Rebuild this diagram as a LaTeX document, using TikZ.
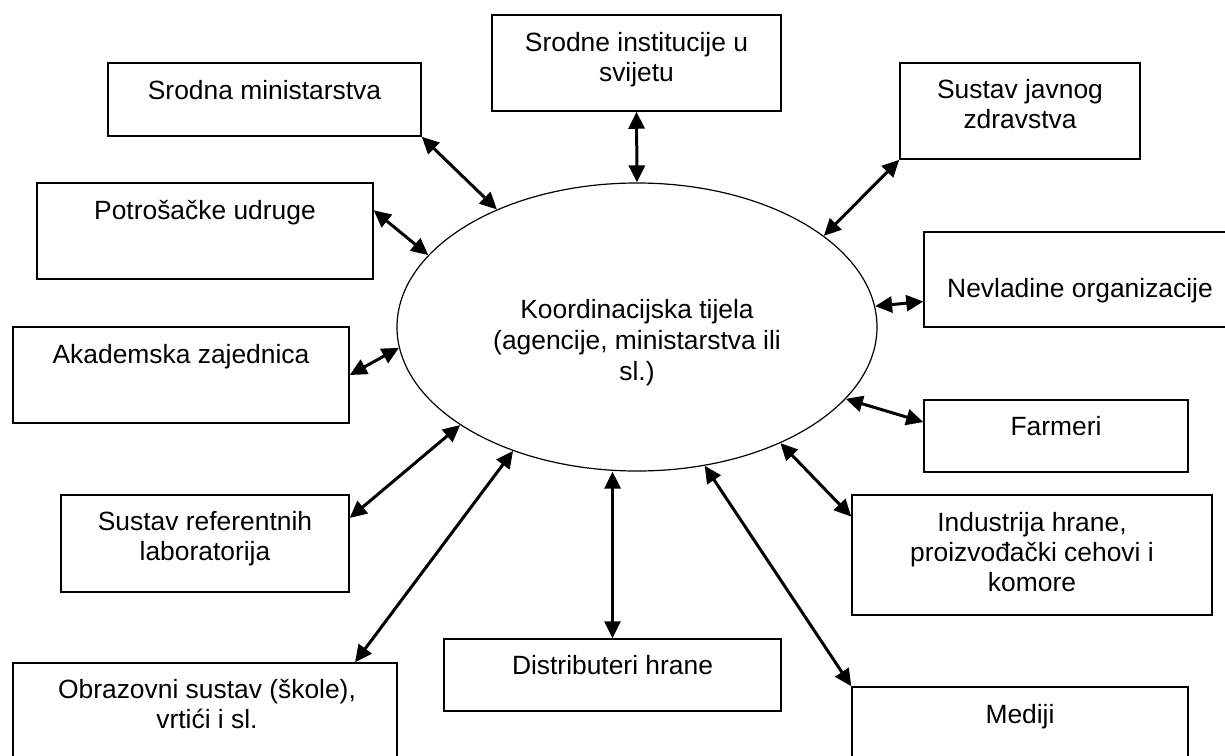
\documentclass[tikz,border=0pt]{standalone}
\usepackage{fontspec}
\setmainfont{Liberation Sans}
\usetikzlibrary{arrows.meta,shapes.geometric}

\begin{document}
\begin{tikzpicture}[x=0.5pt, y=-0.5pt,
    box/.style={draw, line width=0.75pt, inner sep=0pt},
    lbl/.style={anchor=base, inner sep=0pt, align=center, font=\fontsize{13.2}{15}\selectfont},
    veza/.style={{Triangle[length=8.5pt,width=8pt]}-{Triangle[length=8.5pt,width=8pt]}, line width=1.5pt}]
    \useasboundingbox (0,0) rectangle (1225,755);
    \clip (0,0) rectangle (1225,755);

    % Coordinating body in the middle (base = last line)
    \node[draw, ellipse, line width=0.6pt, minimum width=240pt, minimum height=144pt, inner sep=0pt] (koord) at (637,327) {};
    \node[lbl, font=\fontsize{13.2}{15.5}\selectfont] (koordtxt) at (637,380) {Koordinacijska tijela\\(agencije, ministarstva ili\\sl.)};

    % Boxes, left column
    \node[box, minimum width=156.5pt, minimum height=36.5pt] (srodmin) at (264.5,99.5) {};
    \node[lbl] (srodmintxt) at (264.5,99) {Srodna ministarstva};

    \node[box, minimum width=168pt, minimum height=48pt] (potros) at (205,231) {};
    \node[lbl] (potrostxt) at (205,219) {Potrošačke udruge};

    \node[box, minimum width=168pt, minimum height=48pt] (akadem) at (181,375) {};
    \node[lbl] (akademtxt) at (181,363) {Akademska zajednica};

    \node[box, minimum width=144pt, minimum height=48.5pt] (reflab) at (205,543.5) {};
    \node[lbl] (reflabtxt) at (205,560) {Sustav referentnih\\laboratorija};

    \node[box, minimum width=192pt, minimum height=48pt] (obraz) at (205,711) {};
    \node[lbl] (obraztxt) at (207,728) {Obrazovni sustav (škole),\\vrtići i sl.};

    % Boxes, top and bottom
    \node[box, minimum width=144.5pt, minimum height=48pt] (srodinst) at (636.5,63) {};
    \node[lbl] (srodinsttxt) at (636.5,81) {Srodne institucije u\\svijetu};

    \node[box, minimum width=168.5pt, minimum height=36pt] (distrib) at (612.5,675) {};
    \node[lbl] (distribtxt) at (612.5,674) {Distributeri hrane};

    % Boxes, right column
    \node[box, minimum width=120pt, minimum height=48pt] (zdrav) at (1020,111) {};
    \node[lbl] (zdravtxt) at (1020,128) {Sustav javnog\\zdravstva};

    \node[box, minimum width=156pt, minimum height=47.5pt] (nevlad) at (1080,279.5) {};
    \node[lbl] (nevladtxt) at (1080,297) {Nevladine organizacije};

    \node[box, minimum width=132pt, minimum height=36pt] (farmeri) at (1056,436) {};
    \node[lbl] (farmeritxt) at (1056,435) {Farmeri};

    \node[box, minimum width=180pt, minimum height=60pt] (industr) at (1032,555) {};
    \node[lbl] (industrtxt) at (1032,591) {Industrija hrane,\\proizvođački cehovi i\\komore};

    \node[box, minimum width=168pt, minimum height=48pt] (mediji) at (1020,735) {};
    \node[lbl] (medijitxt) at (1020,723) {Mediji};

    % Arrows to the ellipse
    \draw[veza] (srodmin.south east) -- (koord.140.4);
    \draw[veza] (srodinst.south) -- (koord.north);
    \draw[veza] (zdrav.south west) -- (koord.26.4);
    \draw[veza] (potros.7.8) -- (koord.161.6);
    \draw[veza] (nevlad.188.6) -- (koord.5.7);
    \draw[veza] (akadem.east) -- (koord.185.9);
    \draw[veza] (farmeri.174.4) -- (koord.341.6);
    \draw[veza] (reflab.10) -- (koord.209.6);
    \draw[veza] (industr.168.4) -- (koord.321.1);
    \draw[veza] (distrib.north) -- (distrib.north |- koord.south);
    \draw[veza] (obraz.18.3) -- (koord.225.2);
    \draw[veza] (mediji.north west) -- (koord.296.7);
\end{tikzpicture}
\end{document}
